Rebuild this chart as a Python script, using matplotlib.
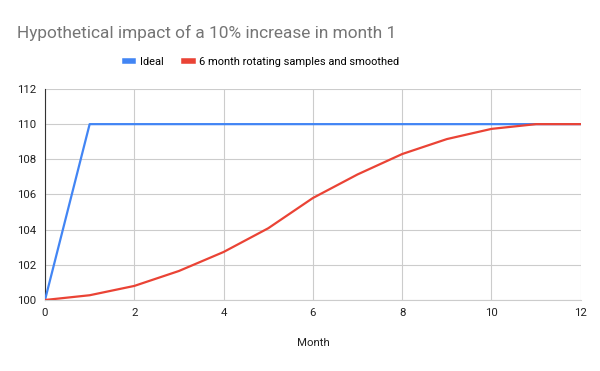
import matplotlib.pyplot as plt

plt.rcParams['font.family'] = ['Roboto', 'DejaVu Sans']

months = [0, 1, 2, 3, 4, 5, 6, 7, 8, 9, 10, 11, 12]
ideal = [100, 110, 110, 110, 110, 110, 110, 110, 110, 110, 110, 110, 110]
smoothed = [100, 100.27, 100.8, 101.65, 102.73, 104.08, 105.8, 107.14,
            108.3, 109.15, 109.73, 110, 110]

fig = plt.figure(figsize=(6, 3.71), dpi=100)
ax = fig.add_axes([0.075, 0.1914, 0.893, 0.5688])

ax.plot(months, ideal, color='#4285F4', lw=1.6, label='Ideal', zorder=3)
ax.plot(months, smoothed, color='#EA4335', lw=1.6,
        label='6 month rotating samples and smoothed', zorder=3)

ax.set_xlim(0, 12)
ax.set_ylim(100, 112)
ax.set_xticks(range(0, 13, 2))
ax.set_yticks(range(100, 113, 2))
ax.grid(True, color='#cccccc', lw=0.8)
ax.set_axisbelow(True)

for s in ['top', 'right']:
    ax.spines[s].set_visible(False)
ax.spines['left'].set_color('#333333')
ax.spines['bottom'].set_color('#cccccc')
ax.tick_params(length=0, labelsize=8.2, colors='#222222', pad=6)

ax.set_xlabel('Month', fontsize=8.2, color='#222222', labelpad=14)

fig.text(0.028, 0.91, 'Hypothetical impact of a 10% increase in month 1',
         fontsize=12.4, color='#757575', va='center', ha='left')

fig.legend(loc='center', bbox_to_anchor=(0.437, 0.834), ncol=2, frameon=False,
           fontsize=7.9, handlelength=0.75, handletextpad=0.6,
           columnspacing=1.9)
for line in fig.legends[0].get_lines():
    line.set_linewidth(4)

fig.savefig('out.png', dpi=100)
